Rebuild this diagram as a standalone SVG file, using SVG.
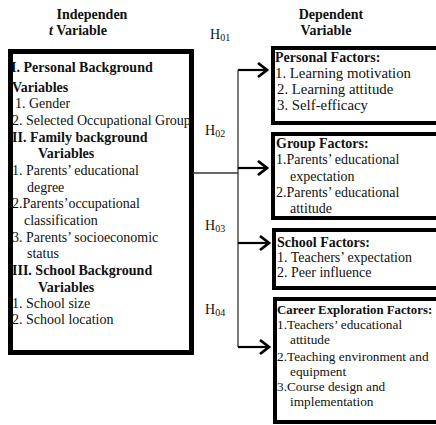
<svg xmlns="http://www.w3.org/2000/svg" width="436" height="425" viewBox="0 0 436 425">
<style>
text{font-family:"Liberation Serif","Times New Roman",serif;fill:#111;font-size:14px}
.b{font-weight:bold}
.s{font-size:13.3px}
.t{font-size:12.8px}
.h{font-size:14px}
.sub{font-size:10px}
.box{fill:#fff;stroke:#000}
.thin{fill:none;stroke:#333;stroke-width:1.3}
.arr{fill:none;stroke:#000;stroke-width:2.2}
.head{fill:none;stroke:#000;stroke-width:2.8;stroke-linejoin:miter}
</style>
<rect width="436" height="425" fill="#fff"/>
<g id="headers">
<text class="b" x="92" y="19" text-anchor="middle">Independen</text>
<text class="b" x="78" y="35" text-anchor="middle"><tspan font-style="italic">t</tspan> Variable</text>
<text class="b" x="331" y="19" text-anchor="middle">Dependent</text>
<text class="b" x="326" y="35" text-anchor="middle">Variable</text>
</g>
<g id="hypotheses">
<text class="h" x="210" y="39">H<tspan class="sub" dy="2">01</tspan></text>
<text class="h" x="205" y="135">H<tspan class="sub" dy="2">02</tspan></text>
<text class="h" x="205" y="230">H<tspan class="sub" dy="2">03</tspan></text>
<text class="h" x="205" y="314">H<tspan class="sub" dy="2">04</tspan></text>
</g>
<g id="independent">
<rect class="box" x="10.5" y="51.5" width="181" height="301" stroke-width="5"/>
<text class="b" x="11" y="72">I. Personal Background</text>
<text class="b" x="12" y="92">Variables</text>
<text x="15" y="108">1. Gender</text>
<text x="12" y="125">2. Selected Occupational Group</text>
<text class="b" x="12" y="142">II. Family background</text>
<text class="b" x="38" y="158">Variables</text>
<text x="12" y="175">1. Parents’ educational</text>
<text x="27" y="192">degree</text>
<text x="12" y="208">2.Parents’occupational</text>
<text x="24" y="225">classification</text>
<text x="12" y="242">3. Parents’ socioeconomic</text>
<text x="27" y="258">status</text>
<text class="b" x="12" y="275">III. School Background</text>
<text class="b" x="38" y="292">Variables</text>
<text x="12" y="308">1. School size</text>
<text x="12" y="324">2. School location</text>
</g>
<g id="personal">
<rect class="box" x="273" y="48" width="170" height="75" stroke-width="4"/>
<text class="b" x="275" y="62">Personal Factors:</text>
<text x="275" y="78" style="font-size:14.8px">1. Learning motivation</text>
<text x="277" y="94" style="font-size:14.8px">2. Learning attitude</text>
<text x="277" y="110" style="font-size:14.8px">3. Self-efficacy</text>
</g>
<g id="group">
<rect class="box" x="273" y="134" width="170" height="84" stroke-width="4"/>
<text class="b" x="276" y="148">Group Factors:</text>
<text x="276" y="164">1.Parents’ educational</text>
<text x="290" y="181">expectation</text>
<text x="276" y="197">2.Parents’ educational</text>
<text x="290" y="213">attitude</text>
</g>
<g id="school">
<rect class="box" x="274" y="230" width="170" height="58" stroke-width="4"/>
<text class="b" x="277" y="247">School Factors:</text>
<text x="277" y="262">1. Teachers’ expectation</text>
<text x="277" y="277">2. Peer influence</text>
</g>
<g id="career">
<rect class="box" x="275" y="299" width="170" height="123" stroke-width="4"/>
<text class="b t" x="277" y="314">Career Exploration Factors:</text>
<text class="s" x="277" y="329">1.Teachers’ educational</text>
<text class="s" x="290" y="344">attitude</text>
<text class="s" x="277" y="361">2.Teaching environment and</text>
<text class="s" x="290" y="376">equipment</text>
<text class="s" x="277" y="391">3.Course design and</text>
<text class="s" x="290" y="406">implementation</text>
</g>
<g id="connectors">
<line class="thin" x1="193" y1="173" x2="238" y2="173"/>
<path class="thin" d="M238,70 V347"/>
<path class="arr" d="M238,70 H266"/>
<path class="head" d="M258,63 L267,70 L258,77"/>
<path class="arr" d="M238,168 H266"/>
<path class="head" d="M258,161 L267,168 L258,175"/>
<path class="arr" d="M238,243 H268"/>
<path class="head" d="M260,236 L269,243 L260,250"/>
<path class="arr" d="M238,347 H268"/>
<path class="head" d="M260,340 L269,347 L260,354"/>
</g>
</svg>
